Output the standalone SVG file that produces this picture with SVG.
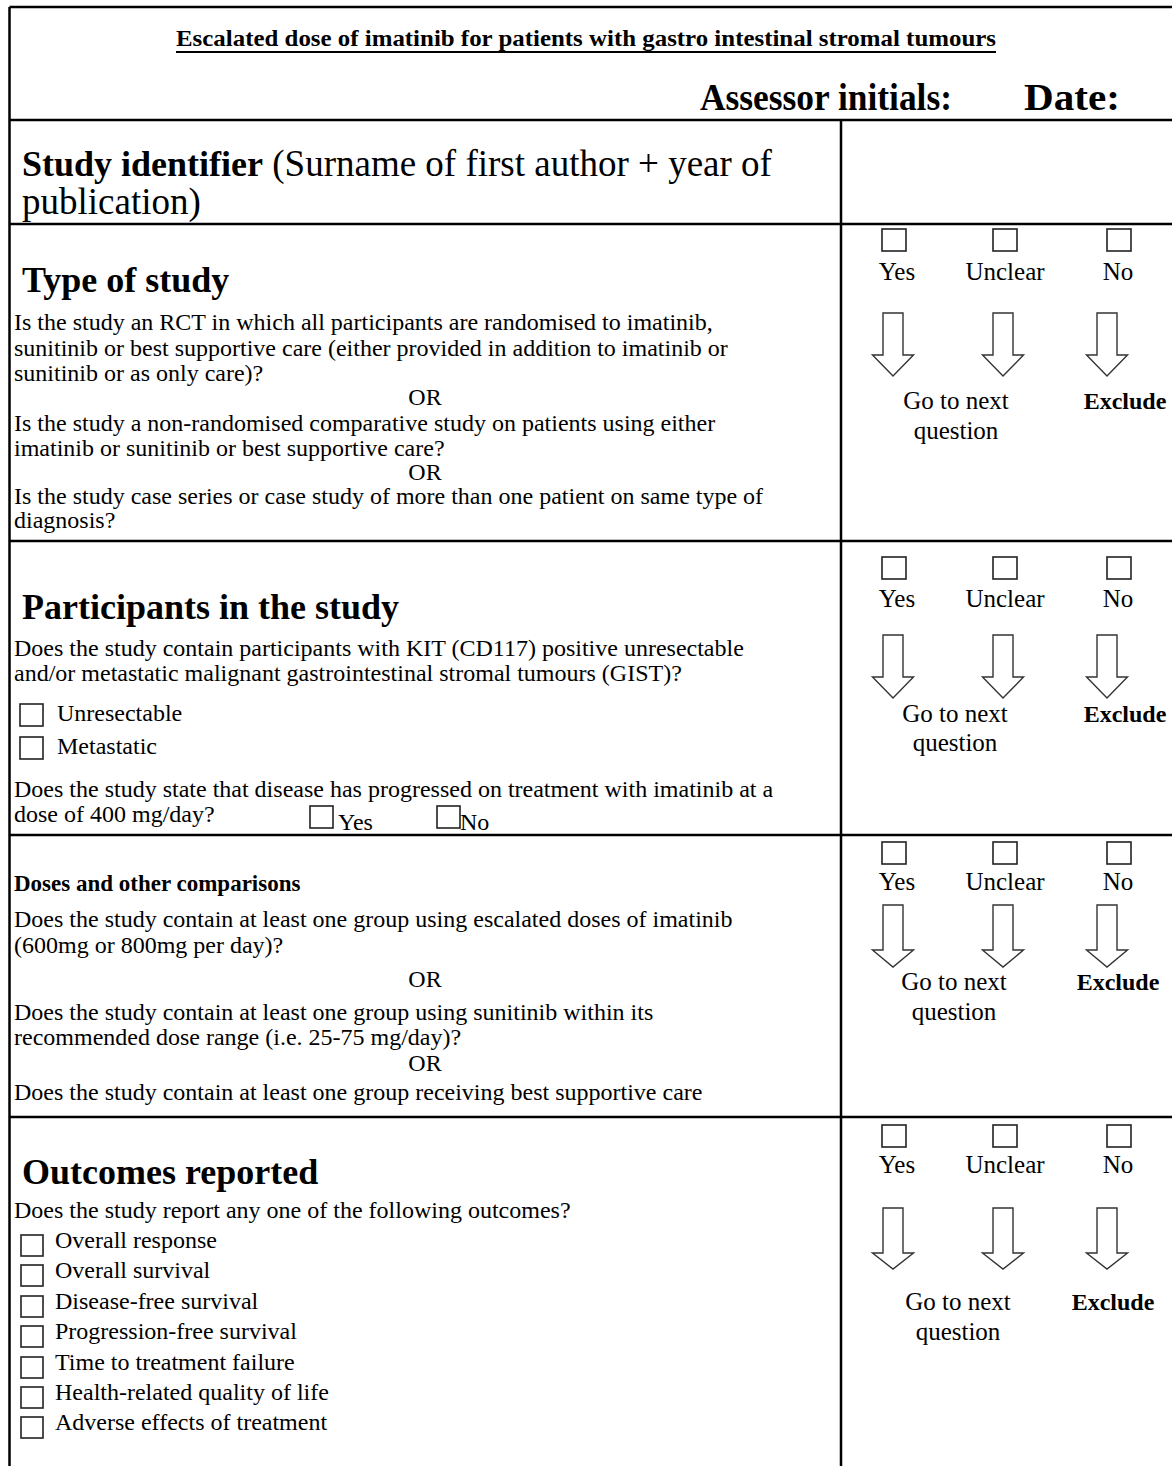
<svg xmlns="http://www.w3.org/2000/svg" width="1172" height="1466" viewBox="0 0 1172 1466">
<defs>
<style>
text{font-family:"Liberation Serif","Times New Roman",serif;fill:#000}
.b{font-size:24px}
.h{font-size:36px;font-weight:bold}
.r{font-size:25px}
.x{font-size:24px;font-weight:bold}
.c{text-anchor:middle}
.ln{stroke:#000;stroke-width:2.5;fill:none}
.cb{fill:#fff;stroke:#222;stroke-width:1.6}
.ar{fill:#fff;stroke:#333;stroke-width:1.4;stroke-linejoin:miter}
</style>
</defs>
<rect width="1172" height="1466" fill="#fff"/>

<g id="connectors">
<path class="ln" d="M9.5,7 H1172 M9.5,7 V1466 M9.5,120 H1172 M841,120 V1466 M9.5,224 H1172 M9.5,541 H1172 M9.5,835 H1172 M9.5,1117 H1172"/>
</g>

<g id="header">
<text x="586" y="46" class="c" style="font-size:23px;font-weight:bold" textLength="820" lengthAdjust="spacingAndGlyphs">Escalated dose of imatinib for patients with gastro intestinal stromal tumours</text>
<line x1="176" y1="52" x2="996" y2="52" stroke="#000" stroke-width="2"/>
<text x="700" y="110" style="font-size:37px;font-weight:bold" textLength="252" lengthAdjust="spacingAndGlyphs">Assessor initials:</text>
<text x="1024" y="110" style="font-size:37px;font-weight:bold" textLength="96" lengthAdjust="spacingAndGlyphs">Date:</text>
</g>

<g id="study-identifier">
<text x="22" y="176" style="font-size:37px"><tspan font-weight="bold" style="font-size:36px">Study identifier</tspan> (Surname of first author + year of</text>
<text x="22" y="214" style="font-size:37px">publication)</text>
</g>

<g id="type-of-study">
<text x="22" y="292" class="h">Type of study</text>
<text x="14" y="330" class="b">Is the study an RCT in which all participants are randomised to imatinib,</text>
<text x="14" y="356" class="b">sunitinib or best supportive care (either provided in addition to imatinib or</text>
<text x="14" y="381" class="b">sunitinib or as only care)?</text>
<text x="425" y="405" class="b c">OR</text>
<text x="14" y="431" class="b">Is the study a non-randomised comparative study on patients using either</text>
<text x="14" y="456" class="b">imatinib or sunitinib or best supportive care?</text>
<text x="425" y="480" class="b c">OR</text>
<text x="14" y="504" class="b">Is the study case series or case study of more than one patient on same type of</text>
<text x="14" y="528" class="b">diagnosis?</text>
</g>
<g id="type-of-study-answers">
<rect class="cb" x="882" y="229" width="24" height="22"/>
<rect class="cb" x="993" y="229" width="24" height="22"/>
<rect class="cb" x="1107" y="229" width="24" height="22"/>
<text x="897" y="280" class="r c">Yes</text>
<text x="1005" y="280" class="r c">Unclear</text>
<text x="1118" y="280" class="r c">No</text>
<path class="ar" d="M883,313 H903 V355 H913.5 L893,376 L872.5,355 H883 Z"/>
<path class="ar" d="M993,313 H1013 V355 H1023.5 L1003,376 L982.5,355 H993 Z"/>
<path class="ar" d="M1097,313 H1117 V355 H1127.5 L1107,376 L1086.5,355 H1097 Z"/>
<text x="956" y="409" class="r c">Go to next</text>
<text x="956" y="439" class="r c">question</text>
<text x="1125" y="409" class="x c">Exclude</text>
</g>

<g id="participants">
<text x="22" y="619" class="h">Participants in the study</text>
<text x="14" y="656" class="b">Does the study contain participants with KIT (CD117) positive unresectable</text>
<text x="14" y="681" class="b">and/or metastatic malignant gastrointestinal stromal tumours (GIST)?</text>
<rect class="cb" x="20" y="704" width="23" height="22"/>
<text x="57" y="721" class="b">Unresectable</text>
<rect class="cb" x="20" y="737" width="23" height="22"/>
<text x="57" y="754" class="b">Metastatic</text>
<text x="14" y="797" class="b">Does the study state that disease has progressed on treatment with imatinib at a</text>
<text x="14" y="822" class="b">dose of 400 mg/day?</text>
<rect class="cb" x="310" y="806" width="23" height="22"/>
<text x="338" y="830" class="b">Yes</text>
<rect class="cb" x="437" y="806" width="23" height="22"/>
<text x="460" y="830" class="b">No</text>
</g>
<g id="participants-answers">
<rect class="cb" x="882" y="557" width="24" height="22"/>
<rect class="cb" x="993" y="557" width="24" height="22"/>
<rect class="cb" x="1107" y="557" width="24" height="22"/>
<text x="897" y="607" class="r c">Yes</text>
<text x="1005" y="607" class="r c">Unclear</text>
<text x="1118" y="607" class="r c">No</text>
<path class="ar" d="M883,635 H903 V677 H913.5 L893,698 L872.5,677 H883 Z"/>
<path class="ar" d="M993,635 H1013 V677 H1023.5 L1003,698 L982.5,677 H993 Z"/>
<path class="ar" d="M1097,635 H1117 V677 H1127.5 L1107,698 L1086.5,677 H1097 Z"/>
<text x="955" y="722" class="r c">Go to next</text>
<text x="955" y="751" class="r c">question</text>
<text x="1125" y="722" class="x c">Exclude</text>
</g>

<g id="doses">
<text x="14" y="891" style="font-size:23px;font-weight:bold">Doses and other comparisons</text>
<text x="14" y="927" class="b">Does the study contain at least one group using escalated doses of imatinib</text>
<text x="14" y="953" class="b">(600mg or 800mg per day)?</text>
<text x="425" y="987" class="b c">OR</text>
<text x="14" y="1020" class="b">Does the study contain at least one group using sunitinib within its</text>
<text x="14" y="1045" class="b">recommended dose range (i.e. 25-75 mg/day)?</text>
<text x="425" y="1071" class="b c">OR</text>
<text x="14" y="1100" class="b">Does the study contain at least one group receiving best supportive care</text>
</g>
<g id="doses-answers">
<rect class="cb" x="882" y="842" width="24" height="22"/>
<rect class="cb" x="993" y="842" width="24" height="22"/>
<rect class="cb" x="1107" y="842" width="24" height="22"/>
<text x="897" y="890" class="r c">Yes</text>
<text x="1005" y="890" class="r c">Unclear</text>
<text x="1118" y="890" class="r c">No</text>
<path class="ar" d="M883,905 H903 V950 H913.5 L893,967 L872.5,950 H883 Z"/>
<path class="ar" d="M993,905 H1013 V950 H1023.5 L1003,967 L982.5,950 H993 Z"/>
<path class="ar" d="M1097,905 H1117 V950 H1127.5 L1107,967 L1086.5,950 H1097 Z"/>
<text x="954" y="990" class="r c">Go to next</text>
<text x="954" y="1020" class="r c">question</text>
<text x="1118" y="990" class="x c">Exclude</text>
</g>

<g id="outcomes">
<text x="22" y="1184" class="h">Outcomes reported</text>
<text x="14" y="1218" class="b">Does the study report any one of the following outcomes?</text>
<rect class="cb" x="21" y="1235" width="22" height="21"/>
<text x="55" y="1248" class="b">Overall response</text>
<rect class="cb" x="21" y="1265" width="22" height="21"/>
<text x="55" y="1278" class="b">Overall survival</text>
<rect class="cb" x="21" y="1296" width="22" height="21"/>
<text x="55" y="1309" class="b">Disease-free survival</text>
<rect class="cb" x="21" y="1326" width="22" height="21"/>
<text x="55" y="1339" class="b">Progression-free survival</text>
<rect class="cb" x="21" y="1357" width="22" height="21"/>
<text x="55" y="1370" class="b">Time to treatment failure</text>
<rect class="cb" x="21" y="1387" width="22" height="21"/>
<text x="55" y="1400" class="b">Health-related quality of life</text>
<rect class="cb" x="21" y="1417" width="22" height="21"/>
<text x="55" y="1430" class="b">Adverse effects of treatment</text>
</g>
<g id="outcomes-answers">
<rect class="cb" x="882" y="1125" width="24" height="22"/>
<rect class="cb" x="993" y="1125" width="24" height="22"/>
<rect class="cb" x="1107" y="1125" width="24" height="22"/>
<text x="897" y="1173" class="r c">Yes</text>
<text x="1005" y="1173" class="r c">Unclear</text>
<text x="1118" y="1173" class="r c">No</text>
<path class="ar" d="M883,1208 H903 V1253 H913.5 L893,1269 L872.5,1253 H883 Z"/>
<path class="ar" d="M993,1208 H1013 V1253 H1023.5 L1003,1269 L982.5,1253 H993 Z"/>
<path class="ar" d="M1097,1208 H1117 V1253 H1127.5 L1107,1269 L1086.5,1253 H1097 Z"/>
<text x="958" y="1310" class="r c">Go to next</text>
<text x="958" y="1340" class="r c">question</text>
<text x="1113" y="1310" class="x c">Exclude</text>
</g>
</svg>
